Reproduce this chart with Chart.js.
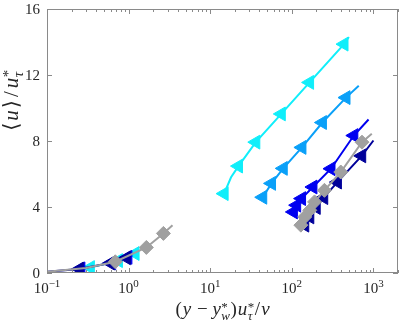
<!DOCTYPE html>
<html><head><meta charset="utf-8">
<script src="https://cdn.jsdelivr.net/npm/chart.js@4.4.1/dist/chart.umd.min.js"></script>
<style>html,body{margin:0;padding:0;background:#fff}</style>
</head><body>
<canvas id="c" width="407" height="322" style="width:407px;height:322px;display:block"></canvas>
<script>
// ---- tick labels ----
const xTickValues = [0.1, 1, 10, 100, 1000];
const xTickExponents = ['\u22121', '0', '1', '2', '3'];
const yTickValues = [0, 4, 8, 12, 16];

// ---- gray (diamonds) ----
const grayNearX = [0.687, 1.65, 2.67];
const grayNearY = [0.68, 1.55, 2.40];
const grayNearLineX = [0.1, 0.3, 0.687, 1.65, 2.67, 3.45];
const grayNearLineY = [0.08, 0.3, 0.68, 1.55, 2.40, 2.90];
const grayX = [129, 144, 166, 190, 251, 398, 724];
const grayY = [2.90, 3.40, 3.80, 4.31, 5.01, 6.12, 7.93];
const grayLineX = [129, 144, 166, 190, 251, 398, 724, 955];
const grayLineY = [2.90, 3.40, 3.80, 4.31, 5.01, 6.12, 7.93, 8.44];

// ---- navy ----
const navyNearX = [0.249, 0.598, 0.94];
const navyNearY = [0.24, 0.60, 0.92];
const navyNearLineX = [0.1, 0.249, 0.598, 0.94, 1.0];
const navyNearLineY = [0.08, 0.24, 0.60, 0.92, 0.97];
const navyX = [144, 166, 199, 246, 362, 718];
const navyY = [2.90, 3.40, 3.97, 4.57, 5.51, 7.10];
const navyLineX = [144, 166, 199, 246, 362, 718, 1000];
const navyLineY = [2.90, 3.40, 3.97, 4.57, 5.51, 7.10, 8.03];

// ---- blue ----
const blueNearX = [0.26, 0.62, 0.98];
const blueNearY = [0.25, 0.61, 0.95];
const blueX = [104.5, 114.6, 131.6, 181.5, 302, 575];
const blueY = [3.70, 4.11, 4.51, 5.21, 6.32, 8.33];
const blueLineX = [104.5, 114.6, 131.6, 181.5, 302, 575, 871];
const blueLineY = [3.70, 4.11, 4.51, 5.21, 6.32, 8.33, 9.30];

// ---- light blue ----
const lightX = [44, 56.4, 78.5, 133, 237, 461];
const lightY = [4.59, 5.43, 6.34, 7.61, 9.12, 10.63];
const lightLineX = [44, 56.4, 78.5, 133, 237, 461, 661];
const lightLineY = [4.59, 5.43, 6.34, 7.61, 9.12, 10.63, 11.35];

// ---- cyan ----
const cyanNearX = [0.34, 0.75, 1.2];
const cyanNearY = [0.33, 0.75, 1.18];
const cyanNearLineX = [0.3, 0.34, 0.75, 1.2, 1.25];
const cyanNearLineY = [0.29, 0.33, 0.75, 1.18, 1.23];
const cyanX = [14.8, 22.2, 36.2, 74.3, 165, 436];
const cyanY = [4.81, 6.48, 7.93, 9.64, 11.55, 13.87];
const cyanLineX = [14.8, 18, 22.2, 36.2, 74.3, 165, 436, 500];
const cyanLineY = [4.81, 5.8, 6.48, 7.93, 9.64, 11.55, 13.87, 14.3];

const C_GRAY = '#a0a0a0', C_NAVY = '#00009a', C_BLUE = '#0000f0', C_LIGHT = '#0aa0f8', C_CYAN = '#10eefa';
const FAM = '"Liberation Serif","DejaVu Serif",serif';

function pts(xs, ys) { return xs.map((x, i) => ({x: x, y: ys[i]})); }
function lineDs(xs, ys, color, order) {
  return {data: pts(xs, ys), showLine: true, borderColor: color, borderWidth: 2, pointRadius: 0,
          pointHoverRadius: 0, fill: false, tension: 0, order: order};
}
function triDs(xs, ys, color, order) {
  return {data: pts(xs, ys), showLine: false, pointStyle: 'triangle', pointRotation: -90,
          pointRadius: 8, backgroundColor: color, borderColor: color, borderWidth: 1, order: order};
}
function diaDs(xs, ys, color, order) {
  return {data: pts(xs, ys), showLine: false, pointStyle: 'rectRot',
          pointRadius: 7, backgroundColor: color, borderColor: color, borderWidth: 1, order: order};
}

const datasets = [
  diaDs(grayNearX, grayNearY, C_GRAY, 0),
  diaDs(grayX, grayY, C_GRAY, 0),
  lineDs(grayNearLineX, grayNearLineY, C_GRAY, 1),
  lineDs(grayLineX, grayLineY, C_GRAY, 1),
  triDs(navyNearX, navyNearY, C_NAVY, 2),
  triDs(navyX, navyY, C_NAVY, 2),
  lineDs(navyNearLineX, navyNearLineY, C_NAVY, 3),
  lineDs(navyLineX, navyLineY, C_NAVY, 3),
  triDs(blueNearX, blueNearY, C_BLUE, 4),
  triDs(blueX, blueY, C_BLUE, 4),
  lineDs(blueLineX, blueLineY, C_BLUE, 5),
  triDs(lightX, lightY, C_LIGHT, 6),
  lineDs(lightLineX, lightLineY, C_LIGHT, 7),
  triDs(cyanNearX, cyanNearY, C_CYAN, 8),
  lineDs(cyanNearLineX, cyanNearLineY, C_CYAN, 9),
  triDs(cyanX, cyanY, C_CYAN, 8),
  lineDs(cyanLineX, cyanLineY, C_CYAN, 9)
];

function measureSeg(ctx, s, fs) {
  if (s.sup !== undefined) {
    const sf = Math.round(fs * 0.7);
    ctx.font = sf + 'px ' + FAM; const a = ctx.measureText(s.sup).width;
    ctx.font = 'italic ' + sf + 'px ' + FAM; const b = ctx.measureText(s.sub).width;
    return Math.max(a, b) + 1;
  }
  ctx.font = (s.it ? 'italic ' : '') + fs + 'px ' + FAM;
  return ctx.measureText(s.t).width + (s.gap || 0);
}
function drawRich(ctx, segs, fs, cx, by) {
  let total = 0; segs.forEach(s => total += measureSeg(ctx, s, fs));
  let x = cx - total / 2;
  ctx.textAlign = 'left'; ctx.textBaseline = 'alphabetic';
  segs.forEach(s => {
    const w = measureSeg(ctx, s, fs);
    if (s.sup !== undefined) {
      const sf = Math.round(fs * 0.7);
      ctx.font = sf + 'px ' + FAM; ctx.fillText(s.sup, x + 0.5, by - fs * 0.22);
      ctx.font = 'italic ' + sf + 'px ' + FAM; ctx.fillText(s.sub, x + 0.5, by + fs * 0.25);
    } else {
      ctx.font = (s.it ? 'italic ' : '') + fs + 'px ' + FAM;
      ctx.fillText(s.t, x, by);
    }
    x += w;
  });
}

const axesPlugin = {
  id: 'axesPlugin',
  afterDraw(chart) {
    const ctx = chart.ctx, a = chart.chartArea, xs = chart.scales.x, ys = chart.scales.y;
    ctx.save();
    ctx.strokeStyle = '#8a8a8a'; ctx.lineWidth = 1;
    ctx.strokeRect(Math.round(a.left) + 0.5, Math.round(a.top) + 0.5, Math.round(a.right - a.left) - 1, Math.round(a.bottom - a.top) - 1);
    ctx.beginPath();
    yTickValues.forEach(v => {
      const p = Math.round(ys.getPixelForValue(v)) + 0.5;
      ctx.moveTo(a.left, p); ctx.lineTo(a.left + 5, p);
      ctx.moveTo(a.right, p); ctx.lineTo(a.right - 5, p);
    });
    xTickValues.forEach(d => {
      for (let k = 1; k <= 9; k++) {
        const v = d * k; if (v > xs.max || v < xs.min) continue;
        const p = Math.round(xs.getPixelForValue(v)) + 0.5;
        const len = k === 1 ? 5 : 3;
        ctx.moveTo(p, a.bottom); ctx.lineTo(p, a.bottom - len);
        ctx.moveTo(p, a.top); ctx.lineTo(p, a.top + len);
      }
    });
    ctx.stroke();
    // tick labels
    ctx.fillStyle = '#262626';
    ctx.font = '15px ' + FAM; ctx.textAlign = 'right'; ctx.textBaseline = 'middle';
    yTickValues.forEach(v => ctx.fillText(String(v), a.left - 7, ys.getPixelForValue(v) + 1));
    ctx.textBaseline = 'alphabetic';
    xTickValues.forEach((v, i) => {
      const p = xs.getPixelForValue(v);
      ctx.font = '15px ' + FAM; const w1 = ctx.measureText('10').width;
      ctx.font = '11px ' + FAM; const w2 = ctx.measureText(xTickExponents[i]).width;
      const x0 = p - (w1 + w2) / 2;
      ctx.textAlign = 'left';
      ctx.font = '15px ' + FAM; ctx.fillText('10', x0, 293);
      ctx.font = '11px ' + FAM; ctx.fillText(xTickExponents[i], x0 + w1, 287);
    });
    // axis titles
    drawRich(ctx, [
      {t: '(', gap: 1}, {t: 'y', it: true, gap: 1}, {t: ' \u2212 '}, {t: 'y', it: true},
      {sup: '*', sub: 'w'}, {t: ')', gap: 1}, {t: 'u', it: true}, {sup: '*', sub: '\u03c4'},
      {t: '/', gap: 1}, {t: '\u03bd', it: true}
    ], 19, (a.left + a.right) / 2, 315);
    ctx.save();
    ctx.translate(18, 100); ctx.rotate(-Math.PI / 2);
    drawRich(ctx, [
      {t: '\u27e8', gap: 2}, {t: 'u', it: true, gap: 2}, {t: '\u27e9', gap: 3}, {t: '/', gap: 3},
      {t: 'u', it: true}, {sup: '*', sub: '\u03c4'}
    ], 21, 0, 0);
    ctx.restore();
    ctx.restore();
  }
};

new Chart(document.getElementById('c'), {
  type: 'scatter',
  data: {datasets: datasets},
  options: {
    responsive: false, animation: false, devicePixelRatio: 1,
    layout: {padding: {top: 8, right: 2, left: 0, bottom: 0}},
    plugins: {legend: {display: false}, tooltip: {enabled: false}},
    events: [],
    scales: {
      x: {type: 'logarithmic', min: 0.1, max: 2000, position: 'bottom',
          grid: {display: false}, border: {display: false}, ticks: {display: false},
          afterFit: s => { s.height = 49; }},
      y: {type: 'linear', min: 0, max: 16, position: 'left',
          grid: {display: false}, border: {display: false}, ticks: {display: false},
          afterFit: s => { s.width = 47; }}
    }
  },
  plugins: [axesPlugin]
});
</script>
</body></html>
